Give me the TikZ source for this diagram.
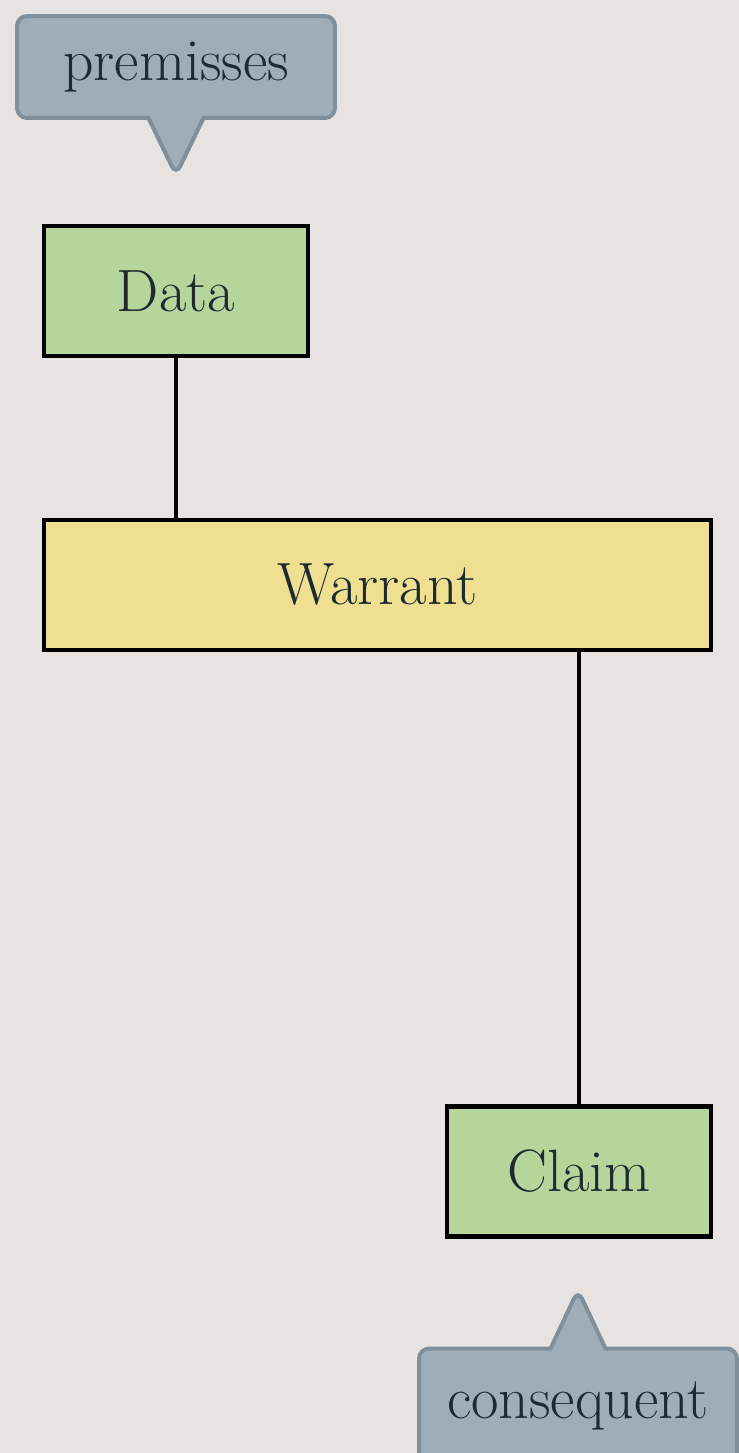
\documentclass[tikz,border=0pt]{standalone}
\usetikzlibrary{shapes.callouts}
\definecolor{paper}{HTML}{E7E3E0}
\definecolor{leafgreen}{HTML}{B5D59B}
\definecolor{sandyellow}{HTML}{EFDF90}
\definecolor{slatefill}{HTML}{9EADB8}
\definecolor{slateline}{HTML}{808F9C}
\definecolor{ink}{HTML}{1E2A30}
\tikzset{
    toulbox/.style={draw=black, line width=0.09cm, text=ink, minimum height=2.6cm,
        font=\fontsize{34}{40}\selectfont},
    bubble/.style={rectangle callout, draw=slateline, fill=slatefill, line width=0.08cm,
        rounded corners=0.2cm, text=ink, minimum width=6.36cm, minimum height=2.04cm,
        callout pointer width=1.1cm, font=\fontsize{34}{40}\selectfont}
}
\begin{document}
\begin{tikzpicture}[x=0.02cm, y=-0.02cm]
    % Page
    \fill[paper] (0,0) rectangle (739,1453);
    \useasboundingbox (0,0) rectangle (739,1453);

    % Toulmin boxes
    \node[toulbox, fill=leafgreen, minimum width=5.28cm] (data) at (176,291) {Data};
    \node[toulbox, fill=sandyellow, minimum width=13.34cm] (warrant) at (377.5,585) {Warrant};
    \node[toulbox, fill=leafgreen, minimum width=5.28cm] (claim) at (579,1171.5) {Claim};
    \draw[line width=0.08cm] (data.south) -- (data.south |- warrant.north);
    \draw[line width=0.08cm] (claim.north |- warrant.south) -- (claim.north);

    % Callouts
    \coordinate (ptop) at (176,175); \coordinate (pbot) at (578,1290);
    \node[bubble, callout absolute pointer={(ptop)}] (premisses) at (176,67) {premisses};
    \node[bubble, minimum height=2.3cm, callout absolute pointer={(pbot)}] (consequent) at (578,1406) {consequent};
\end{tikzpicture}
\end{document}
